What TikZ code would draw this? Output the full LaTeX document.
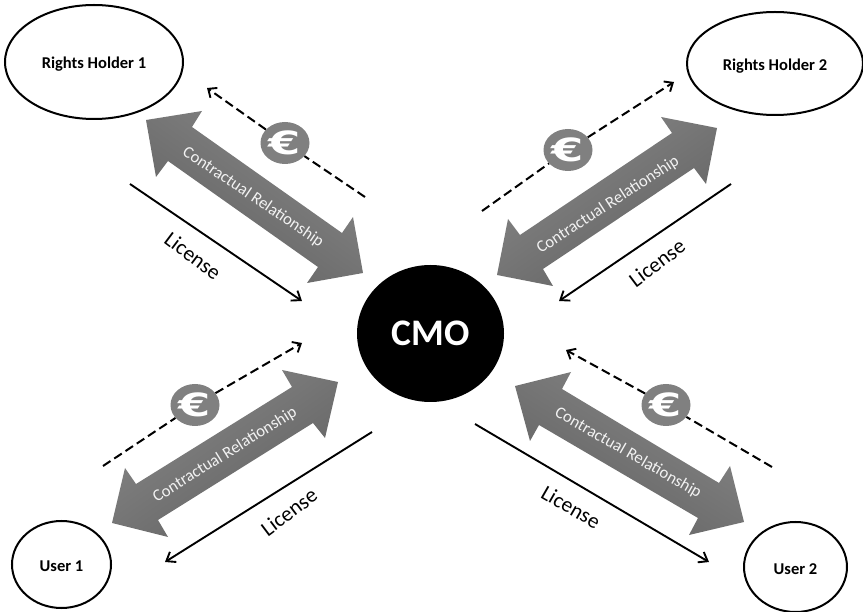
\documentclass[tikz,border=0pt]{standalone}
\usepackage{fontspec}
\setmainfont{Carlito}
\newfontfamily\eurofont{DejaVu Sans}
\usetikzlibrary{arrows.meta,shapes.geometric}
\newcommand{\eurosign}{\raisebox{-0.5pt}{\scalebox{1.45}[1]{€}}}
\tikzset{
  party/.style={draw=black,line width=2pt,ellipse,fill=white,inner sep=0pt,text height=14pt,text depth=0pt,font=\fontsize{16.5}{18}\selectfont\bfseries},
  hub/.style={draw=none,fill=black,ellipse,inner sep=0pt,text=white,font=\fontsize{37.5}{40}\selectfont\bfseries},
  coin/.style={draw=none,fill=black!50,ellipse,inner sep=0pt,minimum width=49pt,minimum height=42pt,text=white,font=\eurofont\fontsize{32}{32}\selectfont\bfseries},
  bigarrow/.style={top color=black!47,bottom color=black!62,draw=none},
  relation/.style={text=white!95!black,font=\fontsize{16.7}{18}\selectfont,inner sep=0pt},
  licence/.style={font=\fontsize{21.5}{23}\selectfont,inner sep=0pt},
  licline/.style={line width=1.9pt,-{Straight Barb[length=8pt,width=12pt,line width=1.9pt]}},
  payline/.style={line width=2pt,dash pattern=on 9pt off 4.5pt},
  paytip/.style={payline,-{Straight Barb[length=7pt,width=12pt,line width=1.9pt]}}
}
\begin{document}
\begin{tikzpicture}[x=1pt,y=-1pt]
\useasboundingbox (0,0) rectangle (863,612);
% big double arrows
\path[bigarrow,shading angle=-35] (146,120) -- (202,111) -- (192,127) -- (342,233) -- (353,217) -- (363,273) -- (307,283) -- (318,267) -- (168,161) -- (156,177) -- cycle;
\path[bigarrow,shading angle=35] (717,128) -- (661,117) -- (672,133) -- (520,235) -- (508,219) -- (497,275) -- (553,286) -- (543,269) -- (694,168) -- (706,184) -- cycle;
\path[bigarrow,shading angle=35] (338,382) -- (282,370) -- (292,387) -- (136,484) -- (125,468) -- (112,523) -- (168,537) -- (158,520) -- (313,423) -- (325,438) -- cycle;
\path[bigarrow,shading angle=-32] (515,386) -- (571,372) -- (562,389) -- (719,483) -- (730,466) -- (744,522) -- (689,535) -- (698,518) -- (539,425) -- (530,441) -- cycle;
% parties
\node[party,minimum width=178pt,minimum height=114pt] (rh1) at (94,62) {Rights Holder 1};
\node[party,minimum width=176pt,minimum height=103pt] (rh2) at (775,63.5) {Rights Holder 2};
\node[party,minimum width=99pt,minimum height=87pt] (u1) at (61.5,564.5) {User 1};
\node[party,minimum width=103pt,minimum height=90pt] (u2) at (795.5,567) {User 2};
\node[hub,minimum width=147pt,minimum height=137pt] (cmo) at (430.5,333.5) {CMO};
% coins
\node[coin] (coinA) at (285,143) {\eurosign};
\node[coin] (coinB) at (568,150) {\eurosign};
\node[coin] (coinC) at (195,405) {\eurosign};
\node[coin] (coinD) at (666,405) {\eurosign};
% free ends
\coordinate (payA1) at (365,197); \coordinate (payA2) at (207,88);
\coordinate (payB1) at (482,211); \coordinate (payB2) at (674,82);
\coordinate (payC1) at (103,466); \coordinate (payC2) at (302,343);
\coordinate (payD1) at (772,467); \coordinate (payD2) at (566,350);
\coordinate (licA1) at (130,184); \coordinate (licA2) at (302,301);
\coordinate (licB1) at (731,184); \coordinate (licB2) at (559,301);
\coordinate (licC1) at (372,432); \coordinate (licC2) at (165,562);
\coordinate (licD1) at (475,424); \coordinate (licD2) at (709,562);
% payment lines
\draw[payline] (payA1) -- (coinA); \draw[paytip] (coinA) -- (payA2);
\draw[payline] (payB1) -- (coinB); \draw[paytip] (coinB) -- (payB2);
\draw[payline] (payC1) -- (coinC); \draw[paytip] (coinC) -- (payC2);
\draw[payline] (payD1) -- (coinD); \draw[paytip] (coinD) -- (payD2);
% licence lines
\draw[licline] (licA1) -- (licA2);
\draw[licline] (licB1) -- (licB2);
\draw[licline] (licC1) -- (licC2);
\draw[licline] (licD1) -- (licD2);
% labels
\node[relation,rotate=-34] (relA) at (253,197) {Contractual Relationship};
\node[relation,rotate=33] (relB) at (608,205) {Contractual Relationship};
\node[relation,rotate=32] (relC) at (225,455) {Contractual Relationship};
\node[relation,rotate=-30] (relD) at (628,453) {Contractual Relationship};
\node[licence,rotate=-37] (lA) at (193,256) {License};
\node[licence,rotate=37] (lB) at (657,263) {License};
\node[licence,rotate=37] (lC) at (289,512) {License};
\node[licence,rotate=-30] (lD) at (571,507) {License};
\end{tikzpicture}
\end{document}
